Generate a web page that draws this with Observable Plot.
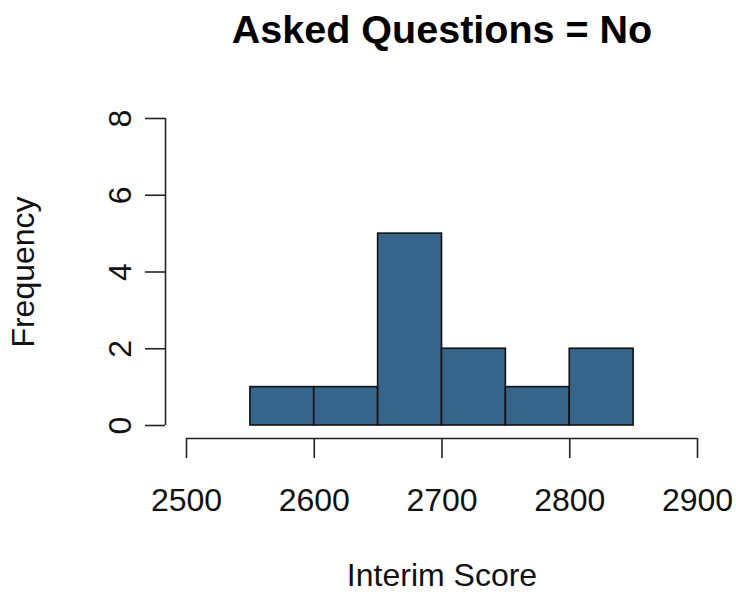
<!DOCTYPE html>
<html>
<head>
<meta charset="utf-8">
<script src="https://cdn.jsdelivr.net/npm/d3@7"></script>
<script src="https://cdn.jsdelivr.net/npm/@observablehq/plot@0.6"></script>
<style>
  html, body { margin: 0; padding: 0; background: #fff; }
  #chart svg { display: block; }
</style>
</head>
<body>
<div id="chart"></div>
<script>
const title = "Asked Questions = No";
const xLabel = "Interim Score";
const yLabel = "Frequency";
const binEdges = [2550, 2600, 2650, 2700, 2750, 2800, 2850];
const counts = [1, 1, 5, 2, 1, 2];
const xTicks = [2500, 2600, 2700, 2800, 2900];
const yTicks = [0, 2, 4, 6, 8];

const bins = counts.map((c, i) => ({x1: binEdges[i], x2: binEdges[i + 1], count: c}));

const font = "'Liberation Sans', Arial, Helvetica, sans-serif";
const axisColor = "#222";

const chart = Plot.plot({
  width: 736,
  height: 594,
  marginLeft: 186,
  marginRight: 39,
  marginTop: 118,
  marginBottom: 169,
  style: {fontFamily: font, background: "#fff", color: "#111"},
  x: {domain: [2500, 2900], axis: null},
  y: {domain: [0, 8], axis: null},
  marks: [
    Plot.rectY(bins, {x1: "x1", x2: "x2", y1: 0, y2: "count", fill: "#36648B", stroke: "#111", strokeWidth: 1.6}),
    // x axis
    Plot.ruleY([0], {x1: xTicks[0], x2: xTicks[xTicks.length - 1], dy: 13, stroke: axisColor, strokeWidth: 1.6}),
    Plot.axisX(xTicks, {anchor: "bottom", tickSize: 20, dy: 13, tickPadding: 30, fontSize: 32, stroke: axisColor, strokeWidth: 1.6, fill: "#111", label: null, tickFormat: d => String(d)}),
    // y axis
    Plot.ruleX([xTicks[0]], {y1: yTicks[0], y2: yTicks[yTicks.length - 1], dx: -21, stroke: axisColor, strokeWidth: 1.6}),
    Plot.axisY(yTicks, {anchor: "left", tickSize: 20, dx: -21, tickPadding: 15, tickRotate: -90, fontSize: 32, stroke: axisColor, strokeWidth: 1.6, fill: "#111", label: null, tickFormat: d => String(d)}),
    // titles
    Plot.text([title], {text: d => d, frameAnchor: "top", dy: -76, lineAnchor: "bottom", fontSize: 39.5, fontWeight: "bold", fill: "#000"}),
    Plot.text([xLabel], {text: d => d, frameAnchor: "bottom", dy: 160, lineAnchor: "bottom", fontSize: 32, fill: "#111"}),
    Plot.text([yLabel], {text: d => d, frameAnchor: "left", dx: -153, rotate: -90, textAnchor: "middle", lineAnchor: "bottom", fontSize: 32, fill: "#111"})
  ]
});
document.getElementById("chart").append(chart);
</script>
</body>
</html>
